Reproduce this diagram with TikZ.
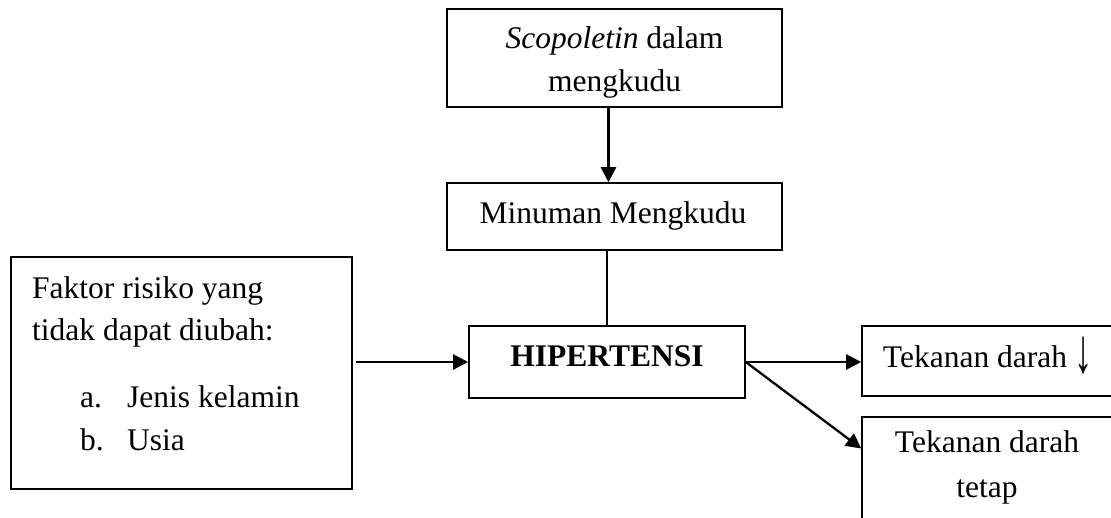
\documentclass[tikz,border=0pt]{standalone}
\usepackage{fontspec}
\usepackage{graphicx}
\setmainfont{Liberation Serif}
\usetikzlibrary{arrows.meta}
\begin{document}
\begin{tikzpicture}[x=1pt,y=-1pt,
  box/.style={draw, line width=1.6pt, inner sep=0pt},
  txt/.style={anchor=base, inner sep=0pt, font=\fontsize{31.5}{38}\selectfont},
  txtl/.style={txt, anchor=base west},
  conn/.style={line width=2.3pt, -{Triangle[length=15pt,width=15pt]}},
  plainline/.style={line width=2.3pt}]
\useasboundingbox (0,0) rectangle (1111,517);
\clip (0,0) rectangle (1111,517);
% boxes
\node[box, minimum width=335pt, minimum height=98pt] (top) at (614.5,58) {};
\node[box, minimum width=335pt, minimum height=67pt] (mm) at (614.5,216.5) {};
\node[box, minimum width=276pt, minimum height=72pt] (hip) at (607,362) {};
\node[box, minimum width=341pt, minimum height=232pt] (left) at (181.5,373) {};
\node[box, minimum width=258pt, minimum height=70pt] (t1) at (991,361) {};
\node[box, minimum width=258pt, minimum height=123pt] (t2) at (991,478.5) {};
% texts
\node[txt] (s1) at (614.5,48) {\textit{Scopoletin} dalam};
\node[txt] (s2) at (614.5,91) {mengkudu};
\node[txt] (m1) at (613,223) {Minuman Mengkudu};
\node[txt] (h1) at (607,366) {\textbf{HIPERTENSI}};
\node[txt] (k1) at (988,367) {Tekanan darah \raisebox{-5pt}{\scalebox{1.15}[2]{↓}}};
\node[txt] (k2) at (987,452) {Tekanan darah};
\node[txt] (k3) at (987,497) {tetap};
\node[txtl] (f1) at (32,298) {Faktor risiko yang};
\node[txtl] (f2) at (32,340) {tidak dapat diubah:};
\node[txtl] (fa) at (80,407) {a.};
\node[txtl] (fa2) at (127,407) {Jenis kelamin};
\node[txtl] (fb) at (80,450) {b.};
\node[txtl] (fb2) at (127,450) {Usia};
% connectors
\draw[conn] ([xshift=-6pt]top.south) -- ([xshift=-6pt]mm.north);
\draw[plainline] (mm.south -| hip.north) -- (hip.north);
\draw[conn] ([xshift=3pt]left.east |- hip.west) -- (hip.west);
\draw[conn] (hip.east) -- (t1.west |- hip.east);
\draw[conn] (hip.east) -- ([yshift=30pt]t2.west);
\end{tikzpicture}
\end{document}
